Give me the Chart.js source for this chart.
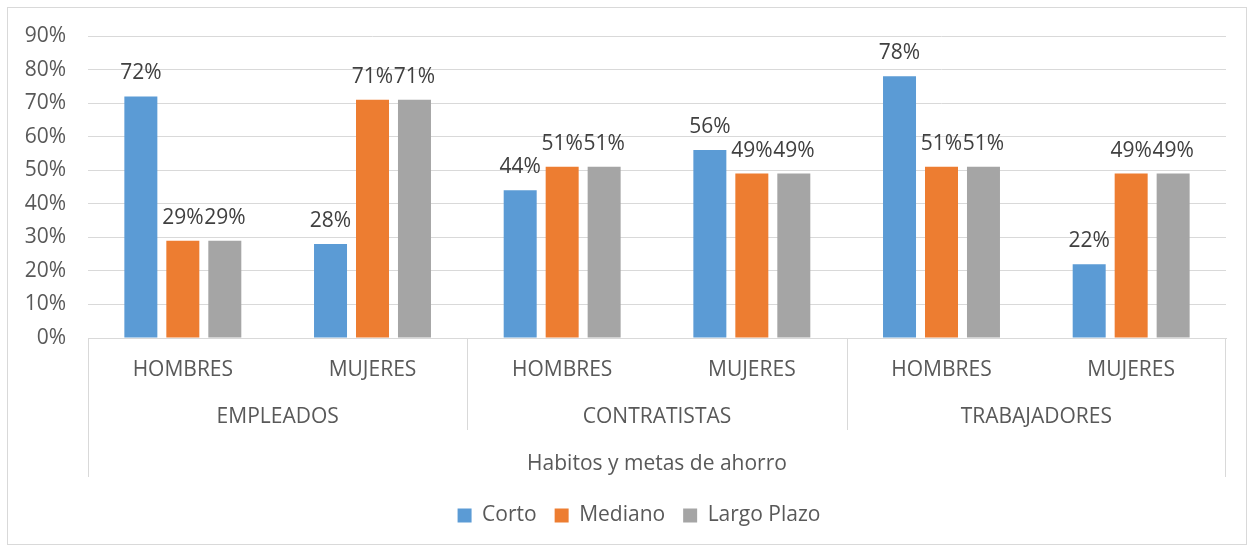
<!DOCTYPE html>
<html lang="es">
<head>
    <meta charset="UTF-8">
    <title>Habitos y metas de ahorro</title>
    <script src="https://cdn.jsdelivr.net/npm/chart.js"></script>
    <style>
        * { margin: 0; padding: 0; box-sizing: border-box; }
        body { background: #fff; width: 1253px; height: 548px; overflow: hidden; }
        .frame {
            position: absolute;
            left: 7px; top: 7px;
            width: 1240px; height: 538px;
            border: 1px solid #d9d9d9;
            background: #fff;
        }
        .frame canvas { display: block; }
    </style>
</head>
<body>
    <div class="frame">
        <canvas id="chart" width="1238" height="536"></canvas>
    </div>

    <script>
        // data
        const subCategories = ['HOMBRES', 'MUJERES', 'HOMBRES', 'MUJERES', 'HOMBRES', 'MUJERES'];
        const groups = ['EMPLEADOS', 'CONTRATISTAS', 'TRABAJADORES'];
        const axisTitle = 'Habitos y metas de ahorro';
        const corto = [72, 28, 44, 56, 78, 22];
        const mediano = [29, 71, 51, 49, 51, 49];
        const largoPlazo = [29, 71, 51, 49, 51, 49];
        const yTicks = [0, 10, 20, 30, 40, 50, 60, 70, 80, 90];

        const FONT = "'Open Sans', 'Liberation Sans', sans-serif";
        const SIZE = 21;
        const TEXT = '#595959';
        const GRID = '#d9d9d9';

        // value labels above each bar
        const barLabels = {
            id: 'barLabels',
            afterDatasetsDraw(chart) {
                const ctx = chart.ctx;
                ctx.save();
                ctx.font = SIZE + 'px ' + FONT;
                ctx.fillStyle = '#404040';
                ctx.textAlign = 'center';
                ctx.textBaseline = 'alphabetic';
                chart.data.datasets.forEach((ds, i) => {
                    chart.getDatasetMeta(i).data.forEach((bar, j) => {
                        ctx.fillText(ds.data[j] + '%', bar.x, bar.y - 17);
                    });
                });
                ctx.restore();
            }
        };

        // second and third level of the category axis
        const groupAxis = {
            id: 'groupAxis',
            afterLayout(chart) {
                // legend sits a bit right of the canvas centre in the original
                chart.legend.left += 22;
                chart.legend.right += 22;
            },
            afterDraw(chart) {
                const ctx = chart.ctx;
                const x = chart.scales.x;
                const area = chart.chartArea;
                const y0 = area.bottom;
                ctx.save();
                ctx.strokeStyle = GRID;
                ctx.lineWidth = 1;
                ctx.beginPath();
                ctx.moveTo(area.left + 0.5, y0);
                ctx.lineTo(area.left + 0.5, y0 + 139);
                ctx.moveTo(area.right - 0.5, y0);
                ctx.lineTo(area.right - 0.5, y0 + 139);
                for (let g = 1; g < groups.length; g++) {
                    const bx = Math.round((x.getPixelForValue(g * 2 - 1) + x.getPixelForValue(g * 2)) / 2) + 0.5;
                    ctx.moveTo(bx, y0);
                    ctx.lineTo(bx, y0 + 92);
                }
                ctx.stroke();

                ctx.font = SIZE + 'px ' + FONT;
                ctx.fillStyle = TEXT;
                ctx.textAlign = 'center';
                ctx.textBaseline = 'middle';
                groups.forEach((name, g) => {
                    const cx = (x.getPixelForValue(g * 2) + x.getPixelForValue(g * 2 + 1)) / 2;
                    ctx.fillText(name, cx, y0 + 79);
                });
                ctx.fillText(axisTitle, (area.left + area.right) / 2, y0 + 126);
                ctx.restore();
            }
        };

        new Chart(document.getElementById('chart').getContext('2d'), {
            type: 'bar',
            data: {
                labels: subCategories,
                datasets: [
                    { label: 'Corto', data: corto, backgroundColor: '#5b9bd5' },
                    { label: 'Mediano', data: mediano, backgroundColor: '#ed7d31' },
                    { label: 'Largo Plazo', data: largoPlazo, backgroundColor: '#a5a5a5' }
                ]
            },
            options: {
                responsive: false,
                animation: false,
                devicePixelRatio: 1,
                categoryPercentage: 0.664,
                barPercentage: 0.786,
                layout: { padding: { top: 28, right: 20, bottom: 8, left: 0 } },
                plugins: {
                    tooltip: { enabled: false },
                    legend: {
                        position: 'bottom',
                        labels: {
                            font: { family: FONT, size: SIZE },
                            color: TEXT,
                            boxWidth: 14,
                            boxHeight: 14,
                            padding: 18
                        }
                    }
                },
                scales: {
                    x: {
                        grid: { display: false, drawTicks: false },
                        border: { color: GRID },
                        ticks: {
                            font: { family: FONT, size: SIZE },
                            color: TEXT,
                            padding: 19,
                            maxRotation: 0
                        },
                        afterFit(scale) { scale.height = 149; }
                    },
                    y: {
                        min: 0,
                        max: 90,
                        afterBuildTicks(scale) {
                            scale.ticks = yTicks.map(v => ({ value: v }));
                        },
                        grid: { color: GRID, drawTicks: false },
                        border: { display: false },
                        ticks: {
                            font: { family: FONT, size: SIZE },
                            color: TEXT,
                            padding: 22,
                            callback: v => v + '%'
                        },
                        afterFit(scale) {
                            scale.width = 80;
                            scale.paddingTop = 0;
                        }
                    }
                }
            },
            plugins: [barLabels, groupAxis]
        });
    </script>
</body>
</html>
